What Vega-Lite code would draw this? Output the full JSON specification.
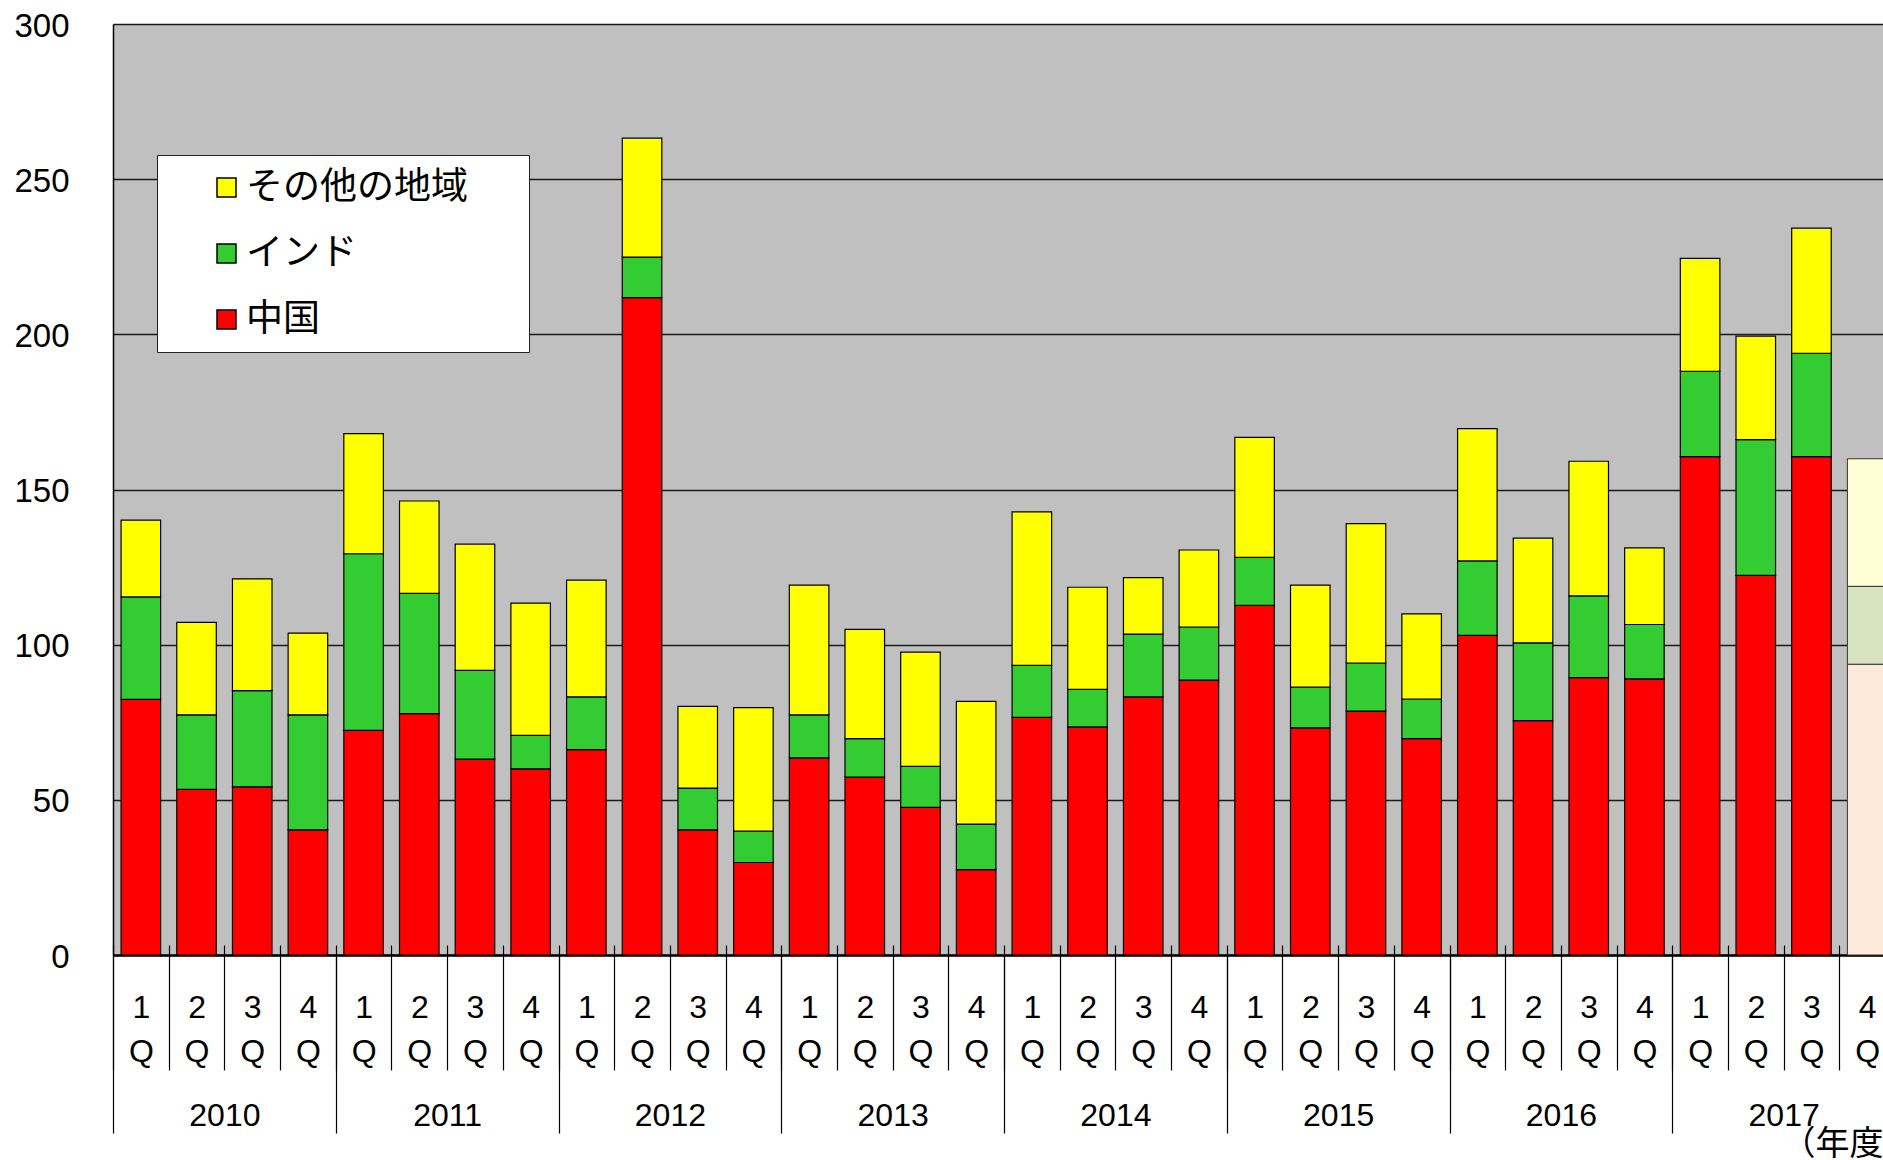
{
  "$schema": "https://vega.github.io/schema/vega-lite/v6.json",
  "autosize": "none",
  "padding": {"left": 113, "top": 24, "right": 0, "bottom": 205},
  "width": 1782,
  "height": 931,
  "background": "white",
  "config": {"view": {"fill": "#C0C0C0", "stroke": null}},
  "datasets": {
    "quarters": [
      {"q": "2010-1", "year": "2010", "status": "実績", "中国": 82.4, "インド": 33.0, "その他の地域": 24.7},
      {"q": "2010-2", "year": "2010", "status": "実績", "中国": 53.4, "インド": 24.0, "その他の地域": 29.8},
      {"q": "2010-3", "year": "2010", "status": "実績", "中国": 54.2, "インド": 31.0, "その他の地域": 36.0},
      {"q": "2010-4", "year": "2010", "status": "実績", "中国": 40.3, "インド": 37.1, "その他の地域": 26.3},
      {"q": "2011-1", "year": "2011", "status": "実績", "中国": 72.4, "インド": 56.9, "その他の地域": 38.7},
      {"q": "2011-2", "year": "2011", "status": "実績", "中国": 77.8, "インド": 38.7, "その他の地域": 29.8},
      {"q": "2011-3", "year": "2011", "status": "実績", "中国": 63.1, "インド": 28.6, "その他の地域": 40.7},
      {"q": "2011-4", "year": "2011", "status": "実績", "中国": 60.0, "インド": 10.8, "その他の地域": 42.6},
      {"q": "2012-1", "year": "2012", "status": "実績", "中国": 66.2, "インド": 17.0, "その他の地域": 37.6},
      {"q": "2012-2", "year": "2012", "status": "実績", "中国": 211.8, "インド": 13.1, "その他の地域": 38.3},
      {"q": "2012-3", "year": "2012", "status": "実績", "中国": 40.3, "インド": 13.5, "その他の地域": 26.3},
      {"q": "2012-4", "year": "2012", "status": "実績", "中国": 29.8, "インド": 10.1, "その他の地域": 39.8},
      {"q": "2013-1", "year": "2013", "status": "実績", "中国": 63.5, "インド": 13.9, "その他の地域": 41.8},
      {"q": "2013-2", "year": "2013", "status": "実績", "中国": 57.3, "インド": 12.4, "その他の地域": 35.2},
      {"q": "2013-3", "year": "2013", "status": "実績", "中国": 47.6, "インド": 13.2, "その他の地域": 36.8},
      {"q": "2013-4", "year": "2013", "status": "実績", "中国": 27.5, "インド": 14.7, "その他の地域": 39.5},
      {"q": "2014-1", "year": "2014", "status": "実績", "中国": 76.6, "インド": 16.7, "その他の地域": 49.5},
      {"q": "2014-2", "year": "2014", "status": "実績", "中国": 73.5, "インド": 12.1, "その他の地域": 32.9},
      {"q": "2014-3", "year": "2014", "status": "実績", "中国": 83.2, "インド": 20.2, "その他の地域": 18.2},
      {"q": "2014-4", "year": "2014", "status": "実績", "中国": 88.6, "インド": 17.1, "その他の地域": 24.8},
      {"q": "2015-1", "year": "2015", "status": "実績", "中国": 112.7, "インド": 15.4, "その他の地域": 38.7},
      {"q": "2015-2", "year": "2015", "status": "実績", "中国": 73.2, "インド": 13.1, "その他の地域": 32.9},
      {"q": "2015-3", "year": "2015", "status": "実績", "中国": 78.6, "インド": 15.5, "その他の地域": 44.9},
      {"q": "2015-4", "year": "2015", "status": "実績", "中国": 69.7, "インド": 12.8, "その他の地域": 27.4},
      {"q": "2016-1", "year": "2016", "status": "実績", "中国": 103.0, "インド": 24.0, "その他の地域": 42.6},
      {"q": "2016-2", "year": "2016", "status": "実績", "中国": 75.5, "インド": 25.1, "その他の地域": 33.7},
      {"q": "2016-3", "year": "2016", "status": "実績", "中国": 89.4, "インド": 26.3, "その他の地域": 43.4},
      {"q": "2016-4", "year": "2016", "status": "実績", "中国": 89.0, "インド": 17.5, "その他の地域": 24.7},
      {"q": "2017-1", "year": "2017", "status": "実績", "中国": 160.6, "インド": 27.5, "その他の地域": 36.4},
      {"q": "2017-2", "year": "2017", "status": "実績", "中国": 122.3, "インド": 43.8, "その他の地域": 33.3},
      {"q": "2017-3", "year": "2017", "status": "実績", "中国": 160.6, "インド": 33.3, "その他の地域": 40.3},
      {"q": "2017-4", "year": "2017", "status": "見込み", "中国": 93.7, "インド": 25.1, "その他の地域": 41.1}
    ]
  },
  "data": {"name": "quarters"},
  "transform": [{"fold": ["中国", "インド", "その他の地域"], "as": ["region", "v"]}],
  "layer": [
    {
      "mark": {"type": "bar", "opacity": 0},
      "encoding": {
        "x": {
          "field": "year", "type": "nominal",
          "scale": {"type": "band", "paddingInner": 0, "paddingOuter": 0},
          "axis": {
            "orient": "bottom", "offset": 0,
            "domain": true, "domainColor": "black", "domainWidth": 2.5,
            "ticks": true, "tickBand": "extent", "tickSize": 178, "tickColor": "black", "tickWidth": 1.2,
            "labelFont": "Liberation Sans", "labelFontSize": 32, "labelPadding": -33,
            "labelBaseline": "top", "labelAngle": 0, "labelColor": "black", "labelOverlap": false,
            "title": "（年度）", "titleFont": "Noto Sans CJK JP", "titleFontSize": 34,
            "titleFontWeight": "normal", "titleColor": "black",
            "titleX": 1668, "titleY": 199, "titleAlign": "left", "titleBaseline": "alphabetic", "titleAngle": 0
          }
        }
      }
    },
    {
      "mark": {"type": "bar", "opacity": 0},
      "encoding": {
        "x": {
          "field": "q", "type": "nominal",
          "scale": {"type": "band", "paddingInner": 0, "paddingOuter": 0},
          "axis": {
            "orient": "bottom", "offset": -10,
            "domain": false,
            "ticks": true, "tickBand": "extent", "tickSize": 125, "tickColor": "black", "tickWidth": 1.2,
            "labelExpr": "datum.value ? [substring(datum.value, 5, 6), 'Q'] : ''",
            "labelFont": "Liberation Sans", "labelFontSize": 32, "labelLineHeight": 44,
            "labelPadding": -78, "labelBaseline": "top", "labelAngle": 0, "labelColor": "black",
            "labelOverlap": false, "title": null
          }
        }
      }
    },
    {
      "layer": [
        {
          "transform": [{"filter": "datum.status !== '見込み'"}],
          "mark": {"type": "bar", "stroke": "black", "strokeWidth": 1.2},
          "encoding": {
            "x": {
              "field": "q", "type": "nominal",
              "scale": {
                "domain": ["2010-1","2010-2","2010-3","2010-4","2011-1","2011-2","2011-3","2011-4","2012-1","2012-2","2012-3","2012-4","2013-1","2013-2","2013-3","2013-4","2014-1","2014-2","2014-3","2014-4","2015-1","2015-2","2015-3","2015-4","2016-1","2016-2","2016-3","2016-4","2017-1","2017-2","2017-3","2017-4"],
                "paddingInner": 0.29, "paddingOuter": 0.145
              },
              "axis": null
            },
            "y": {
              "field": "v", "type": "quantitative", "stack": "zero",
              "scale": {"domain": [0, 300], "nice": false},
              "axis": {
                "values": [0, 50, 100, 150, 200, 250, 300],
                "grid": true, "gridColor": "#1a1a1a", "gridWidth": 1.3,
                "domain": true, "domainColor": "black", "domainWidth": 1.5,
                "ticks": false, "labelPadding": 44,
                "labelFont": "Liberation Sans", "labelFontSize": 33, "labelColor": "black",
                "labelOffset": 2, "title": null
              }
            },
            "color": {
              "field": "region", "type": "nominal",
              "scale": {"domain": ["その他の地域", "インド", "中国"], "range": ["#FFFF00", "#33CC33", "#FF0000"]},
              "legend": {
                "orient": "none", "legendX": 44, "legendY": 131,
                "title": "■", "titleOrient": "right", "titleColor": "#ffffff",
                "titleFont": "DejaVu Sans", "titleFontSize": 30, "titlePadding": 18,
                "fillColor": "white", "strokeColor": "#222", "padding": 14,
                "symbolType": "square", "symbolSize": 361, "symbolStrokeColor": "black", "symbolStrokeWidth": 1.5,
                "symbolOffset": 37, "labelOffset": 1, "labelLimit": 600,
                "labelFont": "Noto Sans CJK JP", "labelFontSize": 37, "labelColor": "black",
                "rowPadding": 28
              }
            },
            "order": {"field": "region", "sort": "descending"}
          }
        },
        {
          "transform": [{"filter": "datum.status === '見込み'"}],
          "mark": {"type": "bar", "stroke": "#333", "strokeWidth": 1},
          "encoding": {
            "x": {
              "field": "q", "type": "nominal",
              "scale": {
                "domain": ["2010-1","2010-2","2010-3","2010-4","2011-1","2011-2","2011-3","2011-4","2012-1","2012-2","2012-3","2012-4","2013-1","2013-2","2013-3","2013-4","2014-1","2014-2","2014-3","2014-4","2015-1","2015-2","2015-3","2015-4","2016-1","2016-2","2016-3","2016-4","2017-1","2017-2","2017-3","2017-4"],
                "paddingInner": 0.29, "paddingOuter": 0.145
              },
              "axis": null
            },
            "y": {
              "field": "v", "type": "quantitative", "stack": "zero",
              "scale": {"domain": [0, 300], "nice": false}
            },
            "color": {
              "field": "region", "type": "nominal",
              "scale": {"domain": ["その他の地域", "インド", "中国"], "range": ["#FFFFD5", "#D8E4BF", "#FDEADA"]},
              "legend": null
            },
            "order": {"field": "region", "sort": "descending"}
          }
        }
      ],
      "resolve": {"scale": {"color": "independent"}}
    }
  ],
  "resolve": {"scale": {"x": "independent"}, "axis": {"x": "independent"}}
}
